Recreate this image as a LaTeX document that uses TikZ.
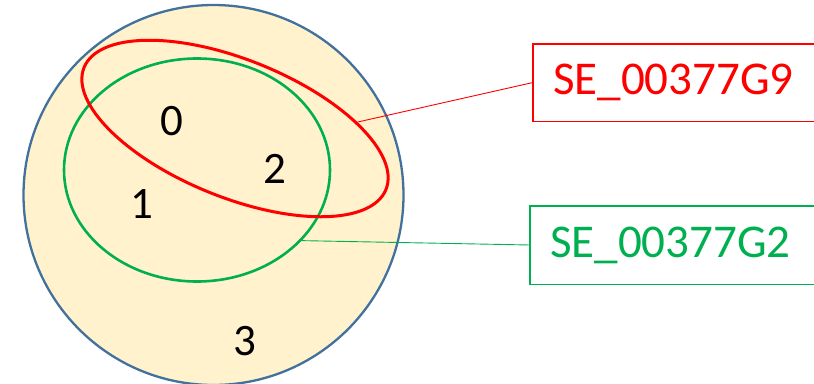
\documentclass[tikz,border=0pt]{standalone}
\usepackage{fontspec}
\setmainfont{Carlito}
\usetikzlibrary{shapes.geometric}
\definecolor{venfill}{HTML}{FFF2CC}
\definecolor{venblue}{HTML}{41719C}
\definecolor{venred}{HTML}{FF0000}
\definecolor{vengreen}{HTML}{00B050}
\tikzset{
  digit/.style={font=\fontsize{45}{54}\selectfont, text=black, inner sep=0pt},
  setlabel/.style={font=\fontsize{47}{56}\selectfont, anchor=west,
    minimum width=330pt, text width=290pt, align=left, inner xsep=20pt, inner ysep=0pt},
  boxedge/.style={line width=1.4pt},
  setell/.style={ellipse, inner sep=0pt},
  leader/.style={line width=0.9pt}
}
\begin{document}
\begin{tikzpicture}[x=1pt,y=-1pt]
\useasboundingbox (0,0) rectangle (814,383);
\node[circle, draw=venblue, fill=venfill, line width=2.3pt, minimum size=380pt, inner sep=0pt] (univ) at (213.5,195) {};
\node[setell, draw=vengreen, line width=2.6pt, minimum width=266pt, minimum height=223pt] (g2) at (197,170) {};
\node[setell, draw=venred, line width=3pt, minimum width=325.6pt, minimum height=137.6pt, rotate=-22] (g9) at (235,128.5) {};
\node[digit] (d0) at (171.5,121) {0};
\node[digit] (d2) at (275,168.5) {2};
\node[digit] (d1) at (142,204) {1};
\node[digit] (d3) at (245,341) {3};
\node[setlabel, text=venred, minimum height=77pt] (lg9) at (533,82.5) {SE\_00377G9};
\node[setlabel, text=vengreen, minimum height=78pt] (lg2) at (530,245) {SE\_00377G2};
\draw[boxedge, venred] (lg9.north east) -- (lg9.north west) -- (lg9.south west) -- (lg9.south east);
\draw[boxedge, vengreen] (lg2.north east) -- (lg2.north west) -- (lg2.south west) -- (lg2.south east);
\draw[leader, venred] (g9.25) -- (lg9.west);
\draw[leader, vengreen] (g2.-34) -- (lg2.west);
\end{tikzpicture}
\end{document}
